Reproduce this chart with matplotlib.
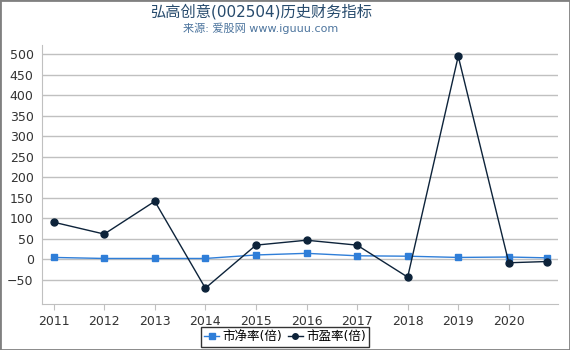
import matplotlib
matplotlib.use("Agg")
import matplotlib.pyplot as plt

plt.rcParams["font.family"] = ["DejaVu Sans", "Noto Sans CJK SC"]

years = [2011, 2012, 2013, 2014, 2015, 2016, 2017, 2018, 2019, 2020, 2020.75]
pb = [4, 1.5, 1.5, 1.5, 10, 14, 8, 7, 4, 5, 3]
pe = [90, 61, 141, -71, 34, 46, 34, -44, 495, -9, -6]
xticks = [2011, 2012, 2013, 2014, 2015, 2016, 2017, 2018, 2019, 2020]
yticks = list(range(-50, 501, 50))

fig = plt.figure(figsize=(5.7, 3.5), dpi=100)
ax = fig.add_axes([0.0737, 0.131, 0.905, 0.74])

ax.plot(years, pb, "-s", color="#2f7ed8", lw=1, ms=5, label="市净率(倍)", zorder=3)
ax.plot(years, pe, "-o", color="#0d233a", lw=1, ms=5, label="市盈率(倍)", zorder=4)

ax.set_ylim(-110, 522)
ax.set_xlim(2010.77, 2020.97)
ax.set_yticks(yticks)
ax.set_xticks(xticks)
ax.grid(axis="y", color="#c0c0c0", lw=1)
ax.set_axisbelow(True)
for s in ["top", "right"]:
    ax.spines[s].set_visible(False)
ax.spines["left"].set_color("#c0c0c0")
ax.spines["bottom"].set_color("#c0c0c0")
ax.tick_params(axis="y", length=0, labelsize=9, colors="#333333", pad=6)
ax.tick_params(axis="x", length=4, color="#c0c0c0", labelsize=9, labelcolor="#333333")

fig.text(0.458, 0.967, "弘高创意(002504)历史财务指标", ha="center", va="center",
         fontsize=11, color="#274b6d")
fig.text(0.458, 0.919, "来源: 爱股网 www.iguuu.com", ha="center", va="center",
         fontsize=8, color="#4d759e")

leg = fig.legend(loc="lower center", bbox_to_anchor=(0.5, -0.008), ncol=2, fontsize=9,
                 frameon=True, fancybox=False, handlelength=1.2, handletextpad=0.3,
                 columnspacing=0.4, borderpad=0.25, markerscale=0.8)
leg.get_frame().set_edgecolor("black")
leg.get_frame().set_linewidth(1)

border = plt.Rectangle((0, 0), 1, 1, transform=fig.transFigure, fill=False,
                       edgecolor="#808080", lw=2)
fig.patches.append(border)

fig.savefig("out.png", dpi=100)
